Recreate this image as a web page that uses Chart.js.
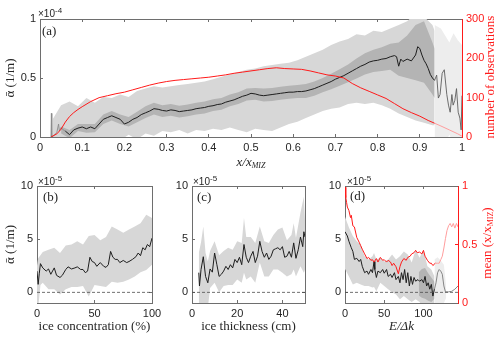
<!DOCTYPE html>
<html><head><meta charset="utf-8">
<script src="https://cdn.jsdelivr.net/npm/chart.js@4/dist/chart.umd.min.js"></script>
<style>
html,body{margin:0;padding:0;background:#fff;}
#wrap{position:relative;width:500px;height:338px;overflow:hidden;background:#fff;}
canvas{position:absolute;left:0;top:0;}
</style></head><body>
<div id="wrap">
<canvas id="ca" width="500" height="338"></canvas>
<canvas id="cb" width="500" height="338"></canvas>
<canvas id="cc" width="500" height="338"></canvas>
<canvas id="cd" width="500" height="338"></canvas>
</div>
<script>
// ---------- Panel (a): x/x_MIZ ----------
const aXTicks = [0,0.1,0.2,0.3,0.4,0.5,0.6,0.7,0.8,0.9,1];
const aYTicks = [0,0.5,1];
const aY2Ticks = [0,100,200,300];
const aMeanX = [0.06,0.07,0.08,0.09,0.10,0.11,0.12,0.13,0.14,0.15,0.16,0.17,0.18,0.19,0.20,0.21,0.22,0.23,0.24,0.25,0.26,0.27,0.28,0.29,0.30,0.31,0.32,0.33,0.34,0.35,0.36,0.37,0.38,0.39,0.40,0.41,0.42,0.43,0.44,0.45,0.46,0.47,0.48,0.49,0.50,0.51,0.52,0.53,0.54,0.55,0.56,0.57,0.58,0.59,0.60,0.61,0.62,0.63,0.64,0.65,0.66,0.67,0.68,0.69,0.70,0.71,0.72,0.73,0.74,0.75,0.76,0.77,0.78,0.79,0.80,0.81,0.82,0.83,0.84,0.845,0.85,0.855,0.86,0.87,0.88,0.89,0.895,0.90,0.905,0.91,0.915,0.92,0.925,0.93,0.935];
const aMean = [0.05,0.02,0.06,0.075,0.085,0.07,0.085,0.07,0.11,0.15,0.165,0.18,0.165,0.15,0.11,0.125,0.15,0.165,0.19,0.205,0.22,0.24,0.235,0.225,0.22,0.23,0.225,0.215,0.22,0.225,0.23,0.24,0.245,0.25,0.26,0.265,0.275,0.28,0.295,0.305,0.315,0.33,0.345,0.355,0.37,0.365,0.355,0.35,0.355,0.36,0.365,0.37,0.375,0.38,0.38,0.385,0.385,0.39,0.40,0.41,0.425,0.44,0.455,0.47,0.49,0.505,0.52,0.54,0.56,0.58,0.60,0.615,0.635,0.645,0.65,0.66,0.665,0.68,0.69,0.68,0.60,0.66,0.64,0.66,0.645,0.695,0.765,0.75,0.695,0.65,0.62,0.58,0.53,0.50,0.48];
const aStartX = [0.026,0.027,0.028,0.035,0.04,0.044,0.046,0.05,0.055,0.06];
const aStart = [0.0,0.2,0.0,0.02,0.04,0.11,0.05,0.08,0.06,0.05];
const aTailX = [0.935,0.94,0.944,0.948,0.953,0.958,0.964,0.968,0.972,0.976,0.979,0.983,0.987,0.991,0.995,0.998,1.0];
const aTail = [0.48,0.525,0.33,0.36,0.54,0.57,0.36,0.27,0.21,0.36,0.27,0.31,0.41,0.21,0.16,0.06,0.35];
const aOutX = [0.03,0.05,0.07,0.09,0.11,0.13,0.15,0.17,0.19,0.21,0.23,0.25,0.27,0.29,0.31,0.33,0.35,0.37,0.39,0.41,0.43,0.45,0.47,0.49,0.51,0.53,0.55,0.57,0.59,0.61,0.63,0.65,0.67,0.69,0.71,0.73,0.75,0.77,0.79,0.81,0.83,0.85,0.87,0.89,0.91,0.93,0.935];
const aOutHi = [0.15,0.27,0.30,0.26,0.33,0.29,0.34,0.33,0.36,0.34,0.39,0.41,0.43,0.42,0.43,0.44,0.45,0.46,0.47,0.49,0.51,0.53,0.55,0.57,0.58,0.60,0.61,0.62,0.63,0.65,0.68,0.71,0.74,0.78,0.81,0.83,0.87,0.86,0.90,0.89,0.92,0.95,0.98,1.05,1.02,0.95,0.90];
const aOutLo = [-0.05,-0.05,-0.05,-0.05,-0.05,-0.05,-0.05,-0.05,-0.03,0.02,-0.02,0.03,0.01,0.05,0.04,0.06,0.03,0.06,0.05,0.07,0.06,0.08,0.06,0.04,0.07,0.06,0.05,0.08,0.11,0.13,0.16,0.19,0.22,0.24,0.25,0.28,0.29,0.28,0.29,0.27,0.24,0.20,0.17,0.14,0.12,0.10,0.10];
const aInX = [0.05,0.07,0.09,0.11,0.13,0.15,0.17,0.19,0.21,0.23,0.25,0.27,0.29,0.31,0.33,0.35,0.37,0.39,0.41,0.43,0.45,0.47,0.49,0.51,0.53,0.55,0.57,0.59,0.61,0.63,0.65,0.67,0.69,0.71,0.73,0.75,0.77,0.79,0.81,0.83,0.85,0.87,0.89,0.91,0.93,0.935];
const aInHi = [0.09,0.06,0.11,0.11,0.11,0.19,0.22,0.19,0.17,0.215,0.26,0.29,0.27,0.28,0.265,0.275,0.29,0.30,0.32,0.33,0.36,0.38,0.41,0.415,0.41,0.415,0.425,0.435,0.44,0.45,0.47,0.50,0.535,0.575,0.615,0.665,0.71,0.74,0.76,0.79,0.80,0.86,0.95,0.98,0.80,0.75];
const aInLo = [0.03,-0.01,0.05,0.035,0.04,0.11,0.14,0.11,0.09,0.125,0.16,0.19,0.17,0.18,0.165,0.175,0.19,0.20,0.22,0.23,0.26,0.28,0.31,0.315,0.30,0.305,0.315,0.325,0.33,0.33,0.35,0.38,0.405,0.435,0.465,0.495,0.53,0.55,0.56,0.57,0.52,0.50,0.48,0.46,0.36,0.33];
const aPaleX = [0.935,0.95,0.96,0.97,0.98,0.99,1.0];
const aPaleHi = [0.95,0.92,0.86,0.80,0.88,0.82,0.78];
const aPaleLo = [-0.05,0,-0.05,0.02,-0.05,0,-0.05];
const aCntX = [0.026,0.04,0.05,0.06,0.07,0.08,0.09,0.10,0.12,0.14,0.16,0.18,0.20,0.22,0.24,0.26,0.28,0.30,0.32,0.34,0.36,0.38,0.40,0.42,0.44,0.46,0.48,0.50,0.52,0.54,0.56,0.58,0.60,0.62,0.64,0.66,0.68,0.70,0.72,0.74,0.76,0.78,0.80,0.82,0.84,0.86,0.88,0.90,0.92,0.935];
const aCnt = [0,8,20,38,52,62,70,77,90,100,105,110,114,120,126,132,137,141,144,146,148,150,152,155,158,162,165,168,171,174,176,174,173,172,168,163,158,155,150,136,125,116,107,98,85,72,62,53,42,35];
const aCntTailX = [0.935,0.95,0.97,0.99,1.0];
const aCntTail = [35,28,18,8,2];

// ---------- Panel (b): ice concentration ----------
const bXTicks = [0,50,100];
const yTicks5 = [0,5,10];
const bX = [0,1,2,3,5,8,10,12,15,17,20,22,25,27,30,33,35,38,40,42,44,46,48,50,52,55,58,60,62,64,66,68,70,72,75,78,80,83,86,88,90,92,94,96,98,100];
const bMean = [2.0,0.75,1.8,2.7,2.3,2.0,2.2,1.7,2.3,1.6,1.4,1.6,2.15,2.4,2.2,2.3,2.4,2.15,2.15,1.85,2.0,3.3,2.9,2.8,2.45,2.8,2.45,2.35,2.6,3.85,3.3,3.1,3.1,2.8,3.0,2.8,2.9,3.1,3.35,3.7,3.45,4.2,4.0,4.5,4.3,5.1];
const bBandX = [0,1,3,5,10,15,20,25,30,35,40,45,50,55,60,65,70,75,80,85,90,95,100];
const bHi = [2.5,3.2,3.5,3.8,4.0,4.2,3.7,4.4,4.5,4.8,4.5,5.3,5.4,4.9,5.2,6.2,5.9,5.6,5.9,6.2,6.5,7.3,7.0];
const bLo = [-1.5,-1.5,0.7,0.9,0.3,0.3,-0.2,0.3,0.5,0.5,0.6,-0.4,0.7,0.6,0.5,1.0,0.9,1.0,1.2,1.5,1.9,2.1,2.6];

// ---------- Panel (c): ice thickness ----------
const cXTicks = [0,20,40];
const cX = [3,3.3,4,5,6,7,8,9,10,11,12,13,14,15,16,17,18,19,20,21,22,23,24,25,26,27,28,29,30,31,32,33,34,35,36,37,38,39,40,41,42,43,44,45,46,47,48,49,49.5,50];
const cMean = [1.85,0.6,2.15,3.35,1.5,0.9,2.2,1.9,3.7,2.6,1.5,1.7,2.0,2.45,2.15,2.6,2.3,3.1,2.8,3.3,2.6,4.5,3.3,2.8,3.4,3.85,2.8,3.4,4.8,3.85,3.3,3.7,3.1,3.4,4.0,4.1,4.2,4.0,4.3,3.3,3.4,3.85,3.3,4.65,3.2,4.0,5.2,4.3,5.7,5.2];
const cBandX = [3,4,5,6,7,8,10,12,14,16,18,20,22,23,24,26,28,30,32,34,36,38,40,42,44,45,46,48,49.5,50];
const cHi = [3.7,4.7,6.2,3.7,2.9,3.9,4.8,3.5,3.9,4.2,4.0,4.8,4.65,7.0,5.2,5.2,4.65,6.2,4.8,4.65,5.4,5.9,6.1,4.9,5.4,6.5,5.1,7.5,9.0,6.8];
const cLo = [-1.5,-1.5,-1.5,-1.5,-1.5,0.4,0.9,0,0.6,0.7,0.7,1.2,0.9,1.85,1.2,1.5,0.9,2.8,1.5,1.5,2.15,2.15,1.85,1.5,1.7,2.15,1.5,2.45,1.85,2.15];

// ---------- Panel (d): E/Δk ----------
const dXTicks = [0,50,100];
const dY2Ticks = [0,0.5,1];
const dX = [0,3,5,8,10,12,15,18,20,22,25,28,30,33,35,37,38,40,42,45,48,50,53,55,58,60,63,65,68,70,72,74,76,78,80,82,84,86,88,90,93,95,98,100,102,104,106,108,110,112,114];
const dMean = [5.7,5.3,4.8,4.2,3.85,3.1,3.2,2.9,3.1,2.45,1.85,2.0,1.7,2.15,1.85,2.9,2.15,1.4,2.0,1.85,2.15,1.8,2.15,1.5,1.7,1.4,1.85,1.2,1.5,0.9,1.85,1.2,2.15,0.9,1.85,0.6,1.5,0.75,1.4,1.05,1.2,1.05,1.2,0.9,1.5,0.6,0.9,0.3,0.75,-0.35,0.3];
const dTailX = [114,116,118,120,122,124,126,128,132,136,140,144];
const dTail = [0.3,0.9,1.85,2.15,2.0,1.7,0.6,0.05,0.05,0.1,0.3,0.6];
const dBandX = [0,5,10,15,20,25,30,35,37,40,45,50,55,60,65,70,75,80,85,90,95,100,105,110,114];
const dHi = [7.1,6.1,5.3,4.8,4.5,3.4,3.1,3.4,3.7,3.1,3.25,2.9,3.1,3.55,3.1,3.4,3.85,3.55,2.8,4.0,3.25,4.0,2.45,2.15,1.5];
const dLo = [2.2,1.5,0.75,0.9,0.75,0.6,0.6,0.45,0.5,0.1,0.9,0.6,0.3,0.0,-0.2,-0.65,-0.35,-0.65,-0.9,-0.65,-0.9,-1.5,-1.5,-1.5,-1.5];
const dInX = [94,98,102,106,110,114];
const dInHi = [1.9,2.2,2.3,1.8,1.4,1.0];
const dInLo = [-0.3,-0.5,-0.6,-0.8,-0.9,-0.6];
const dPaleX = [114,118,122,126,129];
const dPaleHi = [3.1,3.3,3.0,2.6,0.5];
const dPaleLo = [-1.5,-1.5,-1.5,-1.0,-0.5];
const dRedX = [0,1,2,3,5,7,8,10,12,15,18,20,22,25,28,30,33,35,37,40,42,45,48,50,53,55,58,60,62,65,68,70,72,75,78,80,83,85,88,90,92,95,98,100,102,105,108,110,112,115];
const dRed = [0.99,0.9,0.86,0.82,0.79,0.73,0.75,0.66,0.65,0.56,0.52,0.49,0.46,0.42,0.38,0.39,0.365,0.37,0.35,0.38,0.35,0.39,0.365,0.37,0.35,0.365,0.35,0.32,0.34,0.31,0.25,0.31,0.35,0.38,0.365,0.39,0.40,0.42,0.43,0.45,0.43,0.435,0.42,0.45,0.40,0.365,0.34,0.34,0.32,0.34];
const dRedTailX = [115,118,120,122,124,126,128,130,132,134,136,138,140,142,144];
const dRedTail = [0.34,0.34,0.34,0.37,0.40,0.47,0.55,0.62,0.66,0.68,0.65,0.68,0.64,0.68,0.65];

// ---------- styling ----------
const SERIF = "'Liberation Serif', 'DejaVu Serif', serif";
const SANS = "'Liberation Sans', Arial, sans-serif";
const AX = '#6e6e6e', TK = '#262626', RED = '#ff1a1a', RED2 = '#ff9d9d';
const LIGHT = '#d7d7d7', DARK = '#b4b4b4', PALE = '#ededed';
Chart.defaults.font.family = SANS;
Chart.defaults.font.size = 11;
Chart.defaults.color = TK;

function pts(xs, ys){ return xs.map((x,i)=>({x:x, y:ys[i]})); }
function line(xs, ys, color, w, extra){
  return Object.assign({data:pts(xs,ys), borderColor:color, borderWidth:w, pointRadius:0, fill:false, tension:0, xAxisID:'x', yAxisID:'y'}, extra||{});
}
function band(xs, hi, lo, color, order){
  return [
    {data:pts(xs,hi), borderColor:'transparent', borderWidth:0, backgroundColor:color, pointRadius:0, fill:'+1', order:order, xAxisID:'x', yAxisID:'y'},
    {data:pts(xs,lo), borderColor:'transparent', borderWidth:0, pointRadius:0, fill:false, order:order, xAxisID:'x', yAxisID:'y'}
  ];
}
function fix(arr){ return s => { s.ticks = arr.map(v=>({value:v})); }; }
function gridOf(c){ return {drawOnChartArea:false, drawTicks:true, tickLength:-3, color:c, lineWidth:1}; }
function xAxis(min,max,ticks,h,title){
  return {type:'linear', position:'bottom', min:min, max:max, afterBuildTicks:fix(ticks), afterFit:s=>{s.height=h;},
    grid:gridOf(AX), border:{display:true,color:AX,width:1},
    ticks:{padding:7, color:TK, font:{size:11,family:SANS}, maxRotation:0, autoSkip:false, callback:v=>String(v)},
    title: title || {display:false}};
}
function topAxis(min,max,ticks){
  return {type:'linear', position:'top', min:min, max:max, afterBuildTicks:fix(ticks), afterFit:s=>{s.height=0;},
    grid:gridOf(AX), border:{display:true,color:AX,width:1}, ticks:{display:false}};
}
function yAxis(pos,min,max,ticks,w,color,title,showLabels){
  return {type:'linear', position:pos, min:min, max:max, afterBuildTicks:fix(ticks), afterFit:s=>{s.width=w;},
    grid:gridOf(color), border:{display:true,color:color,width:1},
    ticks:{display:showLabels, padding:7, color:(color===AX?TK:color), font:{size:11,family:SANS}, callback:v=>String(v)},
    title: title || {display:false}};
}
const yTitle = {display:true, text:'ᾱ (1/m)', color:TK, font:{family:SERIF,size:13}, padding:{top:3,bottom:0}};
function xTitle(t, italic){ return {display:true, text:t, color:TK, font:{family:SERIF,size:13,style:italic?'italic':'normal'}, padding:{top:0,bottom:4}}; }

function richText(ctx, it){
  ctx.save();
  ctx.translate(it.x, it.y);
  if (it.rot) ctx.rotate(it.rot);
  ctx.fillStyle = it.color || TK;
  ctx.textBaseline = it.baseline || 'middle';
  ctx.textAlign = 'left';
  let w = 0;
  it.parts.forEach(p => { ctx.font = p.f; w += ctx.measureText(p.t).width; });
  let cx = it.align === 'center' ? -w/2 : 0;
  it.parts.forEach(p => { ctx.font = p.f; ctx.fillText(p.t, cx, p.dy || 0); cx += ctx.measureText(p.t).width; });
  ctx.restore();
}
function textPlugin(items){ return {id:'txt', afterDraw(chart){ items.forEach(it=>richText(chart.ctx, it)); }}; }
function expo(x, y, e){
  return {x:x, y:y, baseline:'alphabetic', parts:[{t:'×10', f:'10px '+SANS},{t:e, f:'8px '+SANS, dy:-4}]};
}
const LBL = '13px '+SERIF;
function baseOpts(pad, scales){
  return {responsive:false, animation:false, devicePixelRatio:1, events:[], layout:{padding:pad},
    plugins:{legend:{display:false}, tooltip:{enabled:false}}, scales:scales};
}

// ---------- Chart (a) ----------
new Chart(document.getElementById('ca'), {
  type:'line',
  data:{datasets:[
    line(aCntX, aCnt, RED, 1, {yAxisID:'y2', order:0}),
    line(aCntTailX, aCntTail, RED2, 1, {yAxisID:'y2', order:0}),
    line(aMeanX, aMean, '#1e1e1e', 1, {order:1}),
    line(aStartX, aStart, '#8a8a8a', 0.9, {order:1}),
    line(aTailX, aTail, '#5e5e5e', 0.9, {order:1}),
    ...band(aInX, aInHi, aInLo, DARK, 2),
    ...band(aOutX, aOutHi, aOutLo, LIGHT, 3),
    ...band(aPaleX, aPaleHi, aPaleLo, PALE, 4)
  ]},
  options: baseOpts({top:19,left:0,right:0,bottom:0}, {
    x: xAxis(0,1,aXTicks,201),
    xt: topAxis(0,1,aXTicks),
    y: yAxis('left',0,1,aYTicks,40,AX,yTitle,true),
    y2: yAxis('right',0,300,aY2Ticks,38,RED,null,true)
  }),
  plugins:[textPlugin([
    {x:251, y:163, align:'center', parts:[{t:'x/x', f:'italic 13px '+SERIF},{t:'MIZ', f:'italic 8px '+SERIF, dy:3}]},
    {x:491, y:77, rot:-Math.PI/2, align:'center', color:RED, parts:[{t:'number of observations', f:LBL}]},
    expo(38,16.5,'-4'),
    {x:42, y:32, parts:[{t:'(a)', f:LBL}]}
  ])]
});

// ---------- Chart (b) ----------
new Chart(document.getElementById('cb'), {
  type:'line',
  data:{datasets:[
    line([0,100],[0,0],'#4d4d4d',0.8,{borderDash:[3,2], order:0}),
    line(bX, bMean, '#1e1e1e', 1, {order:1}),
    ...band(bBandX, bHi, bLo, LIGHT, 3)
  ]},
  options: baseOpts({top:186,left:0,right:348,bottom:0}, {
    x: xAxis(0,100,bXTicks,35,xTitle('ice concentration (%)')),
    xt: topAxis(0,100,bXTicks),
    y: yAxis('left',-1,10,yTicks5,37,AX,yTitle,true),
    yr: yAxis('right',-1,10,yTicks5,0,AX,null,false)
  }),
  plugins:[textPlugin([expo(38,184.5,'-5'), {x:43, y:198, parts:[{t:'(b)', f:LBL}]}])]
});

// ---------- Chart (c) ----------
new Chart(document.getElementById('cc'), {
  type:'line',
  data:{datasets:[
    line([0,50],[0,0],'#4d4d4d',0.8,{borderDash:[3,2], order:0}),
    line(cX, cMean, '#1e1e1e', 1, {order:1}),
    ...band(cBandX, cHi, cLo, LIGHT, 3)
  ]},
  options: baseOpts({top:186,left:0,right:195,bottom:0}, {
    x: xAxis(0,50,cXTicks,35,xTitle('ice thickness (cm)')),
    xt: topAxis(0,50,cXTicks),
    y: yAxis('left',-1,10,yTicks5,192,AX,null,true),
    yr: yAxis('right',-1,10,yTicks5,0,AX,null,false)
  }),
  plugins:[textPlugin([expo(193,184.5,'-5'), {x:197, y:198, parts:[{t:'(c)', f:LBL}]}])]
});

// ---------- Chart (d) ----------
new Chart(document.getElementById('cd'), {
  type:'line',
  data:{datasets:[
    line(dRedX, dRed, RED, 1, {yAxisID:'y2', order:0}),
    line(dRedTailX, dRedTail, RED2, 1, {yAxisID:'y2', order:0}),
    line([0,144],[0,0],'#4d4d4d',0.8,{borderDash:[3,2], order:1}),
    line(dX, dMean, '#1e1e1e', 1, {order:1}),
    line(dTailX, dTail, '#7a7a7a', 0.9, {order:1}),
    ...band(dInX, dInHi, dInLo, DARK, 2),
    ...band(dBandX, dHi, dLo, LIGHT, 3),
    ...band(dPaleX, dPaleHi, dPaleLo, PALE, 4)
  ]},
  options: baseOpts({top:186,left:0,right:0,bottom:0}, {
    x: xAxis(0,144,dXTicks,35,xTitle('E/Δk', true)),
    xt: topAxis(0,144,dXTicks),
    y: yAxis('left',-1,10,yTicks5,345,AX,null,true),
    y2: yAxis('right',0,1,dY2Ticks,42,RED,null,true)
  }),
  plugins:[textPlugin([
    expo(347,184.5,'-5'),
    {x:350, y:197, parts:[{t:'(d)', f:LBL}]},
    {x:488, y:243, rot:-Math.PI/2, align:'center', color:RED, parts:[{t:'mean (x/x', f:LBL},{t:'MIZ', f:'8px '+SERIF, dy:3},{t:')', f:LBL}]}
  ])]
});
</script>
</body></html>
